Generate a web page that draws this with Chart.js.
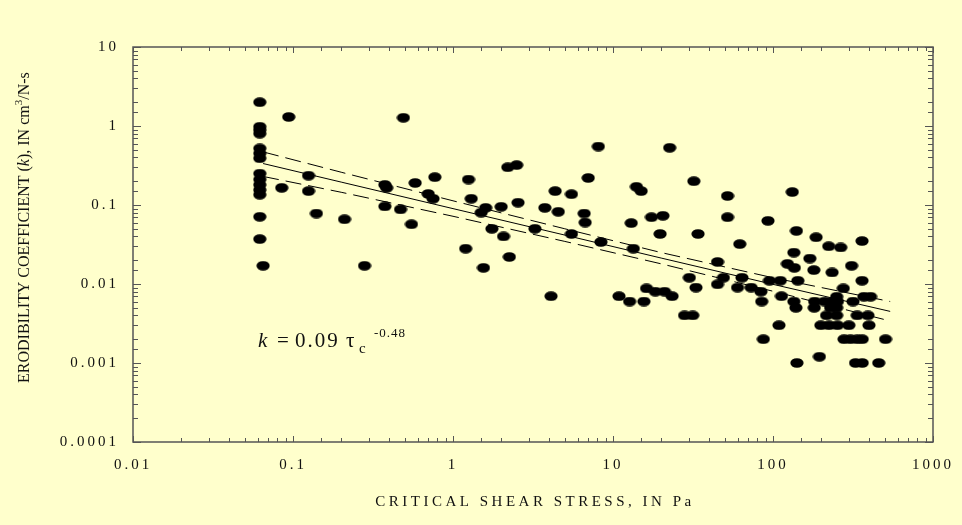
<!DOCTYPE html>
<html>
<head>
<meta charset="utf-8">
<script src="https://cdn.jsdelivr.net/npm/chart.js@4/dist/chart.umd.min.js"></script>
<style>
  html, body { margin: 0; padding: 0; background: #ffffcc; }
  #wrap { width: 962px; height: 525px; }
</style>
</head>
<body>
<div id="wrap"><canvas id="chart" width="962" height="525"></canvas></div>
<script>
// critical shear stress (Pa) and erodibility coefficient k (cm3/N-s)
const shearStress = [
  0.062, 0.062, 0.062, 0.062, 0.062, 0.062, 0.062, 0.062, 0.062, 0.062, 0.062, 0.062, 0.062, 0.062,
  0.065, 0.094, 0.085, 0.125, 0.125, 0.14, 0.21, 0.28, 0.375, 0.385, 0.375, 0.47, 0.49, 0.55, 0.58,
  0.7, 0.75, 0.77, 1.2, 1.25, 1.3, 1.5, 1.55, 1.6, 1.75, 2.0, 2.07, 2.2, 2.25, 2.5, 2.55, 3.25, 3.75,
  4.1, 4.35, 4.55, 5.5, 5.5, 6.6, 6.7, 7.0, 8.1, 8.4, 10.9, 12.7, 13, 13.4, 14, 15, 15.6, 16.2, 17.4,
  18.4, 19.7, 20.5, 21, 22.6, 23.4, 28, 30, 31.5, 32, 33, 34, 45, 45, 49, 52, 52, 60, 62, 64, 73, 84,
  85, 87, 93, 95, 109, 111, 113, 123, 132, 135, 135, 136, 139, 140, 141, 143, 170, 180, 181, 182, 186,
  195, 199, 210, 216, 223, 224, 229, 234, 235, 250, 250, 250, 253, 253, 265, 275, 278, 298, 305, 310,
  316, 328, 336, 336, 360, 360, 361, 361, 370, 392, 398, 407, 458, 505
];
const erodibility = [
  2.0, 0.98, 0.89, 0.80, 0.52, 0.45, 0.39, 0.25, 0.21, 0.18, 0.155, 0.135, 0.071, 0.037,
  0.017, 1.3, 0.165, 0.235, 0.15, 0.078, 0.066, 0.017, 0.18, 0.165, 0.096, 0.088, 1.27, 0.057, 0.19,
  0.138, 0.12, 0.225, 0.028, 0.21, 0.12, 0.08, 0.016, 0.092, 0.05, 0.095, 0.04, 0.30, 0.022, 0.32, 0.107, 0.05, 0.092,
  0.007, 0.15, 0.082, 0.137, 0.043, 0.078, 0.06, 0.22, 0.55, 0.034, 0.007, 0.006, 0.059, 0.028, 0.17, 0.15, 0.006, 0.0088, 0.07,
  0.008, 0.043, 0.073, 0.008, 0.53, 0.007, 0.004, 0.012, 0.004, 0.2, 0.009, 0.043, 0.019, 0.0099, 0.012, 0.13, 0.07, 0.009, 0.032, 0.012, 0.009, 0.008,
  0.006, 0.002, 0.063, 0.011, 0.003, 0.011, 0.007, 0.018, 0.146, 0.025, 0.006, 0.016, 0.005, 0.047, 0.001, 0.011, 0.021, 0.015, 0.005, 0.006, 0.039,
  0.0012, 0.003, 0.006, 0.004, 0.03, 0.003, 0.005, 0.014, 0.006, 0.0069, 0.005, 0.004, 0.006, 0.003, 0.029, 0.0088, 0.002, 0.003, 0.002, 0.017,
  0.006, 0.001, 0.004, 0.002, 0.035, 0.011, 0.002, 0.001, 0.0069, 0.004, 0.003, 0.0069, 0.001, 0.002
];

// regression k = 0.09 tau^-0.48 and its dashed bands
const fitStress = [0.065, 0.2, 1, 5, 20, 100, 540];
const fitLine   = [0.335, 0.195, 0.09, 0.0416, 0.0213, 0.0099, 0.0045];
const fitUpper  = [0.47, 0.26, 0.113, 0.05, 0.025, 0.012, 0.0060];
const fitLower  = [0.23, 0.145, 0.072, 0.0346, 0.018, 0.0081, 0.0034];

const xTickLabels = ['0.01', '0.1', '1', '10', '100', '1000'];
const yTickLabels = ['0.0001', '0.001', '0.01', '0.1', '1', '10'];

const SERIF = '"Liberation Serif", "Times New Roman", serif';

// filled oval used as the marker
const dot = document.createElement('canvas');
dot.width = 14; dot.height = 10;
(function () {
  const c = dot.getContext('2d');
  c.fillStyle = '#000';
  c.beginPath();
  c.ellipse(7, 5, 6.6, 4.8, 0, 0, Math.PI * 2);
  c.fill();
})();

function pairs(xs, ys) {
  return xs.map((x, i) => ({x: x, y: ys[i]}));
}

function decadeLabel(value, labels, firstExp) {
  const e = Math.round(Math.log10(value));
  if (Math.abs(Math.log10(value) - e) > 1e-6) return '';
  return labels[e - firstExp] || '';
}

const framePlugin = {
  id: 'frame',
  beforeDraw(chart) {
    chart.ctx.letterSpacing = '3px';
  },
  afterDraw(chart) {
    const {ctx, chartArea: a} = chart;
    const xs = chart.scales.x, ys = chart.scales.y;
    ctx.save();
    ctx.letterSpacing = '0px';
    ctx.strokeStyle = '#555';
    ctx.lineWidth = 1.5;
    ctx.strokeRect(a.left, a.top, a.right - a.left, a.bottom - a.top);
    ctx.lineWidth = 1;
    ctx.beginPath();
    xs.ticks.forEach(t => {
      const p = Math.round(xs.getPixelForValue(t.value)) + 0.5;
      const major = decadeLabel(t.value, xTickLabels, -2) !== '';
      const len = major ? 6 : 4;
      ctx.moveTo(p, a.bottom); ctx.lineTo(p, a.bottom - len);
      ctx.moveTo(p, a.top); ctx.lineTo(p, a.top + len);
    });
    ys.ticks.forEach(t => {
      const p = Math.round(ys.getPixelForValue(t.value)) + 0.5;
      const major = decadeLabel(t.value, yTickLabels, -4) !== '';
      const len = major ? 8 : 5;
      ctx.moveTo(a.left, p); ctx.lineTo(a.left + len, p);
      ctx.moveTo(a.right, p); ctx.lineTo(a.right - len, p);
    });
    ctx.stroke();

    ctx.fillStyle = '#111';
    ctx.textBaseline = 'alphabetic';

    // x axis title
    ctx.font = '15px ' + SERIF;
    ctx.letterSpacing = '3.5px';
    ctx.textAlign = 'center';
    ctx.fillText('CRITICAL SHEAR STRESS, IN Pa', (a.left + a.right) / 2 + 2, 506);

    // y axis title, rotated, reading upward from y = 383
    ctx.letterSpacing = '0px';
    ctx.textAlign = 'left';
    const parts = [
      {t: 'ERODIBILITY COEFFICIENT (', f: '16px ' + SERIF},
      {t: 'k', f: 'italic 16px ' + SERIF},
      {t: '), IN cm', f: '16px ' + SERIF},
      {t: '3', f: '11px ' + SERIF, dy: -7},
      {t: '/N-s', f: '16px ' + SERIF}
    ];
    ctx.save();
    ctx.translate(29, 383);
    ctx.rotate(-Math.PI / 2);
    let x = 0;
    parts.forEach(p => {
      ctx.font = p.f;
      ctx.fillText(p.t, x, p.dy || 0);
      x += ctx.measureText(p.t).width;
    });
    ctx.restore();

    // equation label
    ctx.font = 'italic 21px ' + SERIF;
    ctx.fillText('k', 258, 347);
    ctx.font = '21px ' + SERIF;
    ctx.fillText('=', 277, 347);
    ctx.letterSpacing = '2px';
    ctx.fillText('0.09', 295, 347);
    ctx.letterSpacing = '0px';
    ctx.fillText('\u03c4', 346, 347);
    ctx.font = '15px ' + SERIF;
    ctx.fillText('c', 359, 353);
    ctx.font = '13px ' + SERIF;
    ctx.letterSpacing = '1px';
    ctx.fillText('-0.48', 374, 337);
    ctx.restore();
  }
};

function logAxis(min, max, labels, firstExp) {
  return {
    type: 'logarithmic',
    min: min,
    max: max,
    grid: {display: false, drawTicks: false},
    border: {display: false},
    ticks: {
      color: '#111',
      font: {family: SERIF, size: 15},
      autoSkip: false,
      maxRotation: 0,
      padding: 14,
      callback: v => decadeLabel(v, labels, firstExp)
    }
  };
}

const xAxis = logAxis(0.01, 1000, xTickLabels, -2);
xAxis.afterFit = s => { s.height = 83; };
const yAxis = logAxis(0.0001, 10, yTickLabels, -4);
yAxis.afterFit = s => { s.width = 133; };

new Chart(document.getElementById('chart'), {
  type: 'scatter',
  data: {
    datasets: [
      {
        data: pairs(shearStress, erodibility),
        pointStyle: dot,
        pointRadius: 6,
        backgroundColor: '#000',
        borderColor: '#000'
      },
      {
        type: 'line',
        data: pairs(fitStress, fitLine),
        borderColor: '#000',
        borderWidth: 1,
        pointRadius: 0,
        fill: false
      },
      {
        type: 'line',
        data: pairs(fitStress, fitUpper),
        borderColor: '#000',
        borderWidth: 1,
        borderDash: [16, 7],
        pointRadius: 0,
        fill: false
      },
      {
        type: 'line',
        data: pairs(fitStress, fitLower),
        borderColor: '#000',
        borderWidth: 1,
        borderDash: [16, 7],
        pointRadius: 0,
        fill: false
      }
    ]
  },
  options: {
    responsive: false,
    animation: false,
    events: [],
    layout: {padding: {top: 47, right: 26, left: 0, bottom: 0}},
    plugins: {legend: {display: false}, tooltip: {enabled: false}},
    scales: {x: xAxis, y: yAxis}
  },
  plugins: [framePlugin]
});
</script>
</body>
</html>
